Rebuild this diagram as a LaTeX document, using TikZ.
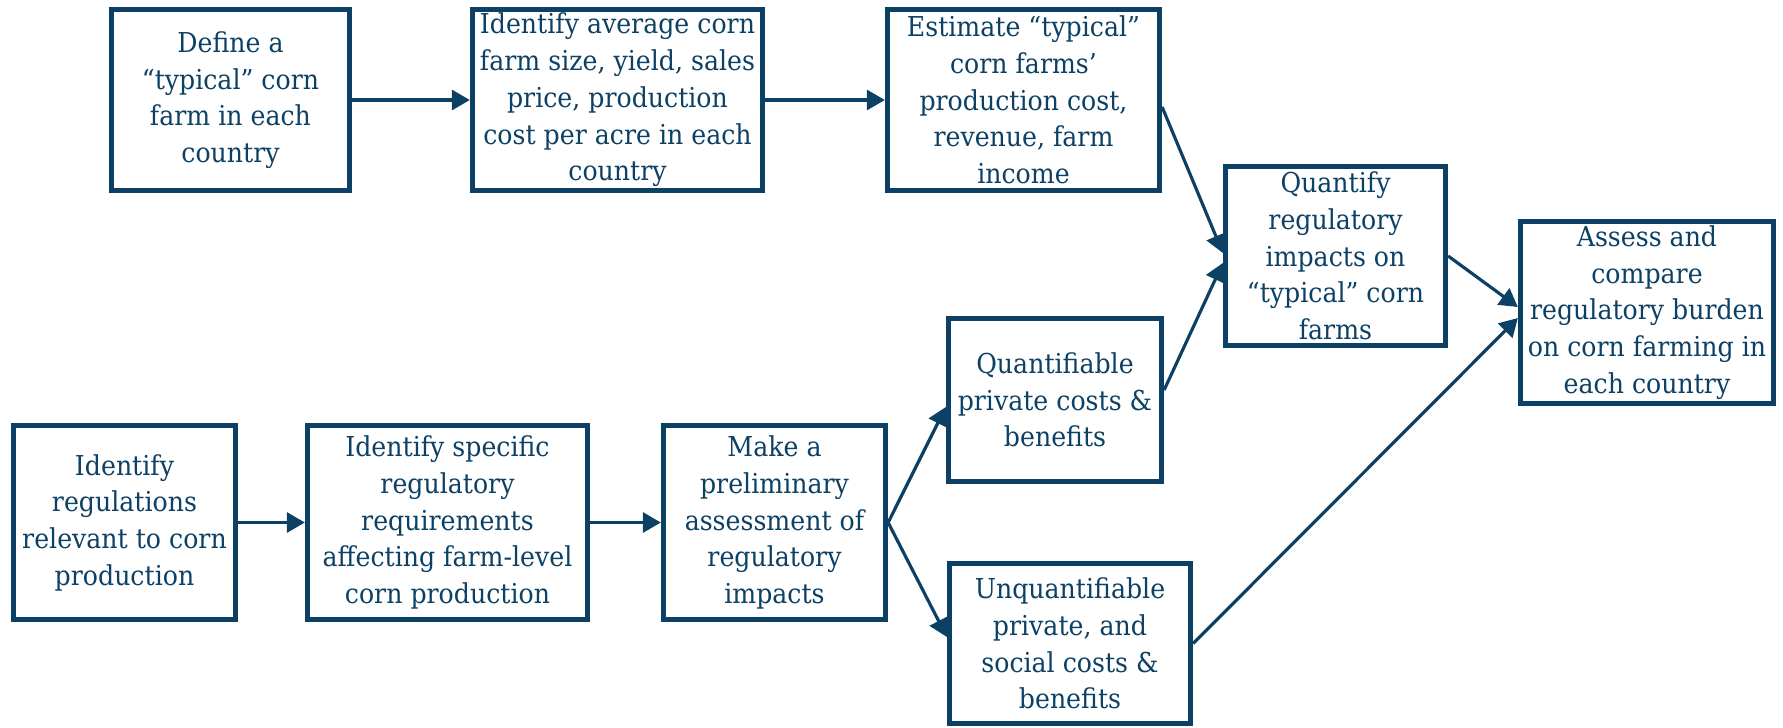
\documentclass[tikz,border=0pt]{standalone}
\usepackage{fontspec}
\setmainfont[FakeStretch=0.92]{DejaVu Serif}
\usetikzlibrary{arrows.meta, calc, positioning}
\definecolor{navy}{HTML}{0C4064}

\begin{document}
\begin{tikzpicture}[
    stepbox/.style={draw=navy, line width=1.5pt, text=navy, align=center,
      inner sep=0pt, font=\fontsize{7.8}{10.44}\selectfont},
    flow/.style={-{Triangle[length=1.8mm, width=2mm]}, draw=navy, line width=0.9pt}
  ]
	\useasboundingbox (0,0) rectangle (17.83,-7.27);

	% top row: typical farm
	\node[stepbox, minimum width=2.38cm, minimum height=1.81cm] (deftyp) at (2.305,-1.00)
	  {Define a\\“typical” corn\\farm in each\\country};
	\node[stepbox, minimum width=2.90cm, minimum height=1.81cm] (avgfarm) at (6.175,-1.00)
	  {Identify average corn\\farm size, yield, sales\\price, production\\cost per acre in each\\country};
	\node[stepbox, minimum width=2.72cm, minimum height=1.81cm] (esttyp) at (10.235,-1.00)
	  {Estimate “typical”\\corn farms’\\production cost,\\revenue, farm\\income};

	% merge and result
	\node[stepbox, minimum width=2.20cm, minimum height=1.79cm] (quant) at (13.355,-2.56)
	  {Quantify\\regulatory\\impacts on\\“typical” corn\\farms};
	\node[stepbox, minimum width=2.53cm, minimum height=1.82cm] (assess) at (16.47,-3.125)
	  {Assess and\\compare\\regulatory burden\\on corn farming in\\each country};

	% bottom row: regulations
	\node[stepbox, minimum width=2.22cm, minimum height=1.94cm] (idreg) at (1.245,-5.225)
	  {Identify\\regulations\\relevant to corn\\production};
	\node[stepbox, minimum width=2.80cm, minimum height=1.94cm] (idspec) at (4.475,-5.225)
	  {Identify specific\\regulatory\\requirements\\affecting farm-level\\corn production};
	\node[stepbox, minimum width=2.22cm, minimum height=1.94cm] (prelim) at (7.745,-5.225)
	  {Make a\\preliminary\\assessment of\\regulatory\\impacts};
	\node[stepbox, minimum width=2.13cm, minimum height=1.63cm] (qpriv) at (10.55,-4.00)
	  {Quantifiable\\private costs \&\\benefits};
	\node[stepbox, minimum width=2.41cm, minimum height=1.60cm] (unq) at (10.70,-6.435)
	  {Unquantifiable\\private, and\\social costs \&\\benefits};

	% arrows
	\draw[flow] (deftyp.east) -- (avgfarm.west);
	\draw[flow] (avgfarm.east) -- (esttyp.west);
	\draw[flow] ([yshift=-0.07cm]esttyp.east) -- ([yshift=0.03cm]quant.west);
	\draw[flow] ([yshift=0.10cm]qpriv.east) -- ([yshift=-0.07cm]quant.west);
	\draw[flow] (quant.east) -- ([yshift=0.055cm]assess.west);
	\draw[flow] (unq.east) -- ([yshift=-0.055cm]assess.west);
	\draw[flow] (idreg.east) -- (idspec.west);
	\draw[flow] (idspec.east) -- (prelim.west);
	\draw[flow] (prelim.east) -- ([yshift=-0.07cm]qpriv.west);
	\draw[flow] (prelim.east) -- ([yshift=0.065cm]unq.west);
\end{tikzpicture}
\end{document}
